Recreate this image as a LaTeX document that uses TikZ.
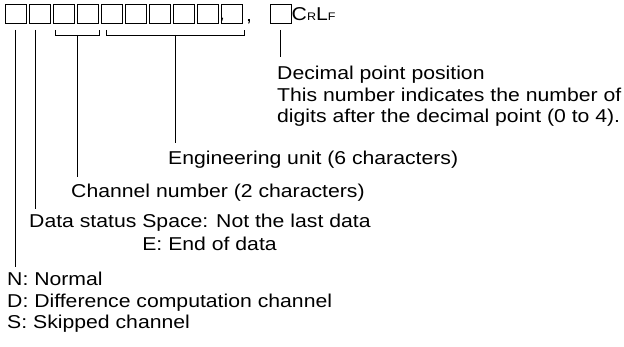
\documentclass[tikz,border=0pt]{standalone}
\usepackage{fontspec}
\setmainfont{Liberation Sans}[FakeStretch=1.14]
\usetikzlibrary{calc}

\begin{document}
\begin{tikzpicture}[
            x=1pt, y=-1pt,
            cell/.style={draw, line width=0.9pt, minimum width=21pt, minimum height=19pt, inner sep=0pt},
            lead/.style={line width=0.8pt},
            txt/.style={inner sep=0pt, anchor=base west, align=left, font=\fontsize{18.6}{21.6}\selectfont},
            ]
            \useasboundingbox (0,0) rectangle (624,347);
            \foreach \i in {1,...,10}
                \node[cell] (b\i) at ({16+24*(\i-1)}, 14) {};
            \node[cell] (b11) at (280.7, 14) {};
            \node[inner sep=0pt, anchor=base, font=\fontsize{12}{12}\selectfont] (sep1) at (222.5, 19.5) {,};
            \node[txt] (sep2) at (246, 22) {,};
            \node[txt] (crlf) at (291.5, 21) {C{\fontsize{11}{11}\selectfont R}L{\fontsize{11}{11}\selectfont F}};

            % base of a multi-line node is its last line
            \node[txt] (dec) at (277, 123) {Decimal point position\\This number indicates the number of\\digits after the decimal point (0 to 4).};
            \node[txt] (unit) at (168, 165) {Engineering unit (6 characters)};
            \node[txt] (chan) at (71, 198) {Channel number (2 characters)};
            \node[txt] (stat) at (29, 251) {Data status Space: Not the last data\\[1.5pt]\phantom{Data status }E: End of data};
            \node[txt] (kind) at (7, 329) {N: Normal\\D: Difference computation channel\\S: Skipped channel};

            % brackets under grouped cells
            \draw[lead] ([xshift=2pt,yshift=-6pt]b3.south west) |- ([yshift=-11pt]b4.south east) -- ([yshift=-6pt]b4.south east);
            \draw[lead] ([xshift=5pt,yshift=-6pt]b5.south west) |- ([xshift=1pt,yshift=-11pt]b10.south east) -- ([xshift=1pt,yshift=-6pt]b10.south east);
            \coordinate (chanmid) at ($([xshift=2pt,yshift=-11pt]b3.south west)!0.5!([yshift=-11pt]b4.south east)$);
            \coordinate (unitmid) at ($([xshift=5pt,yshift=-11pt]b5.south west)!0.5!([xshift=1pt,yshift=-11pt]b10.south east)$);

            \draw[lead] ([xshift=-1pt,yshift=-6pt]b1.south) -- ([xshift=-1pt,yshift=5pt]b1.south |- kind.north);
            \draw[lead] ([xshift=-5pt,yshift=-6pt]b2.south) -- ([xshift=-5pt,yshift=5pt]b2.south |- stat.north);
            \draw[lead] (chanmid) -- ([yshift=7pt]chanmid |- chan.north);
            \draw[lead] (unitmid) -- ([yshift=8pt]unitmid |- unit.north);
            \draw[lead] ([yshift=-6pt]b11.south) -- ([yshift=9pt]b11.south |- dec.north);
        \end{tikzpicture}
\end{document}
